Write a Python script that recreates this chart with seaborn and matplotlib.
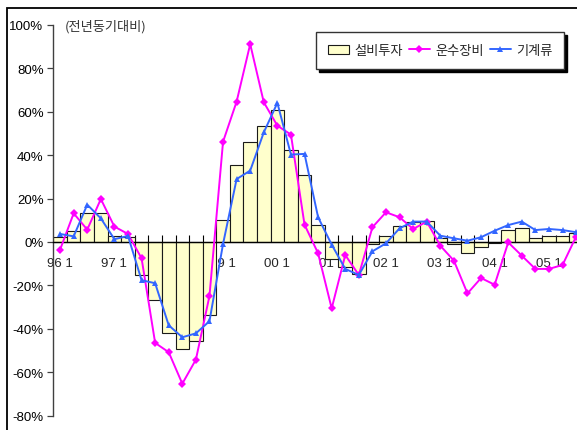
import matplotlib
matplotlib.use("Agg")
import matplotlib.pyplot as plt
import seaborn as sns
import numpy as np
from matplotlib.patches import Rectangle

# ---------------- data (y-o-y change, %) ----------------
quarters = ["96 1", "96 2", "96 3", "96 4", "97 1", "97 2", "97 3", "97 4",
            "98 1", "98 2", "98 3", "98 4", "99 1", "99 2", "99 3", "99 4",
            "00 1", "00 2", "00 3", "00 4", "01 1", "01 2", "01 3", "01 4",
            "02 1", "02 2", "02 3", "02 4", "03 1", "03 2", "03 3", "03 4",
            "04 1", "04 2", "04 3", "04 4", "05 1", "05 2", "05 3"]

facility = [2.2, 5.2, 13.5, 13.5, 2.9, 2.2, -15.1, -26.7, -41.9, -49.3, -45.5, -33.6,
            10.2, 35.5, 46.2, 53.6, 61.0, 42.5, 30.9, 7.8,
            -8.0, -11.5, -14.7, -1.0, 2.9, 7.5, 9.1, 9.5, 1.7,
            -0.9, -5.2, -2.5, -0.6, 5.5, 6.6, 1.8, 2.6, 2.6, 4.0]

transport = [-3.5, 13.2, 5.7, 19.8, 7.1, 3.7, -7.5, -46.5, -50.8, -65.3, -54.2, -24.9,
             46.2, 64.7, 91.2, 64.4, 53.6, 49.5, 8.0, -5.2,
             -30.6, -6.0, -15.2, 6.8, 13.7, 11.4, 6.0, 9.4, -1.7,
             -8.6, -23.7, -16.6, -19.7, -0.2, -6.3, -12.4, -12.4, -10.6, 2.5]

machinery = [3.7, 2.6, 17.2, 10.9, 1.3, 2.8, -17.6, -19.0, -38.4, -43.9, -42.1, -36.5,
             -0.9, 29.0, 32.9, 50.5, 64.1, 40.3, 40.6, 11.4,
             -1.2, -12.4, -15.2, -4.3, -0.6, 6.3, 9.4, 9.4, 2.9,
             1.7, 0.6, 2.2, 5.2, 7.8, 9.4, 5.5, 6.0, 5.5, 4.5]

tick_labels = ["96 1", "97 1", "98 1", "99 1", "00 1", "01 1", "02 1", "03 1", "04 1", "05 1"]
y_ticks = [-80, -60, -40, -20, 0, 20, 40, 60, 80, 100]

series_names = ["설비투자", "운수장비", "기계류"]
unit_note = "(전년동기대비)"

# ---------------- style ----------------
sns.set_style("white")
plt.rcParams["font.family"] = ["Liberation Sans", "Noto Sans CJK KR", "DejaVu Sans"]

W, H = 577, 431
fig = plt.figure(figsize=(W / 100, H / 100), dpi=100)
ax = fig.add_axes([53.3 / W, (H - 416.6) / H, 529.6 / W, (416.6 - 26.0) / H])

pos = np.arange(len(quarters))

sns.barplot(x=pos, y=facility, color="#FFFFCC", saturation=1, width=1.0,
            edgecolor="#1a1a1a", linewidth=0.8, label=series_names[0], ax=ax, zorder=1)
sns.lineplot(x=pos, y=transport, color="#FF00FF", marker="D", markersize=3.6,
             markeredgewidth=0, linewidth=1.4, label=series_names[1], ax=ax, zorder=3)
sns.lineplot(x=pos, y=machinery, color="#3366FF", marker="^", markersize=5,
             markeredgewidth=0, linewidth=1.4, label=series_names[2], ax=ax, zorder=4)

ax.set_xlim(-0.5, len(quarters) - 0.5)
ax.set_ylim(y_ticks[0], y_ticks[-1])
ax.set_xlabel("")
ax.set_ylabel("")
ax.grid(False)

for s in ["top", "right"]:
    ax.spines[s].set_visible(False)
ax.spines["bottom"].set_position(("data", 0))
ax.spines["bottom"].set_color("black")
ax.spines["bottom"].set_linewidth(1.0)
ax.spines["left"].set_color("#404040")
ax.spines["left"].set_linewidth(1.0)

ax.set_yticks(y_ticks)
ax.set_yticklabels([f"{v}%" for v in y_ticks])
ax.tick_params(axis="y", left=True, direction="out", length=4, width=0.9,
               color="#404040", pad=3, labelsize=9.5, labelcolor="black")

label_pos = [quarters.index(t) for t in tick_labels]
ax.set_xticks(label_pos)
ax.set_xticklabels(tick_labels)
ax.set_xticks(pos[:-1] + 0.5, minor=True)
ax.tick_params(axis="x", which="major", bottom=True, length=0, pad=11, labelsize=9.5)
ax.tick_params(axis="x", which="minor", bottom=True, direction="in", length=5,
               width=0.8, color="black")

handles, labels = ax.get_legend_handles_labels()
order = [labels.index(n) for n in series_names]
leg = ax.legend([handles[i] for i in order], [labels[i] for i in order],
                loc="upper left",
                bbox_to_anchor=(316 / W, 1 - 33 / H), bbox_transform=fig.transFigure,
                ncol=3, frameon=True, fancybox=False, framealpha=1,
                shadow={"color": "black", "alpha": 1},
                prop={"family": "Noto Sans CJK KR", "size": 9.5},
                handlelength=1.6, handletextpad=0.4, columnspacing=0.45,
                borderpad=0.9, borderaxespad=0)
leg.get_frame().set_edgecolor("#333333")
leg.get_frame().set_linewidth(1.0)

fig.text(65 / W, 1 - 27 / H, unit_note, family="Noto Sans CJK KR", size=9.5,
         va="center", ha="left", color="#333333")

fig.patches.append(Rectangle((7 / W, -0.05), 1.2, 1 - 9 / H + 0.05,
                             transform=fig.transFigure, fill=False,
                             edgecolor="black", linewidth=1.3, zorder=0))

fig.savefig("out.png", dpi=100)
